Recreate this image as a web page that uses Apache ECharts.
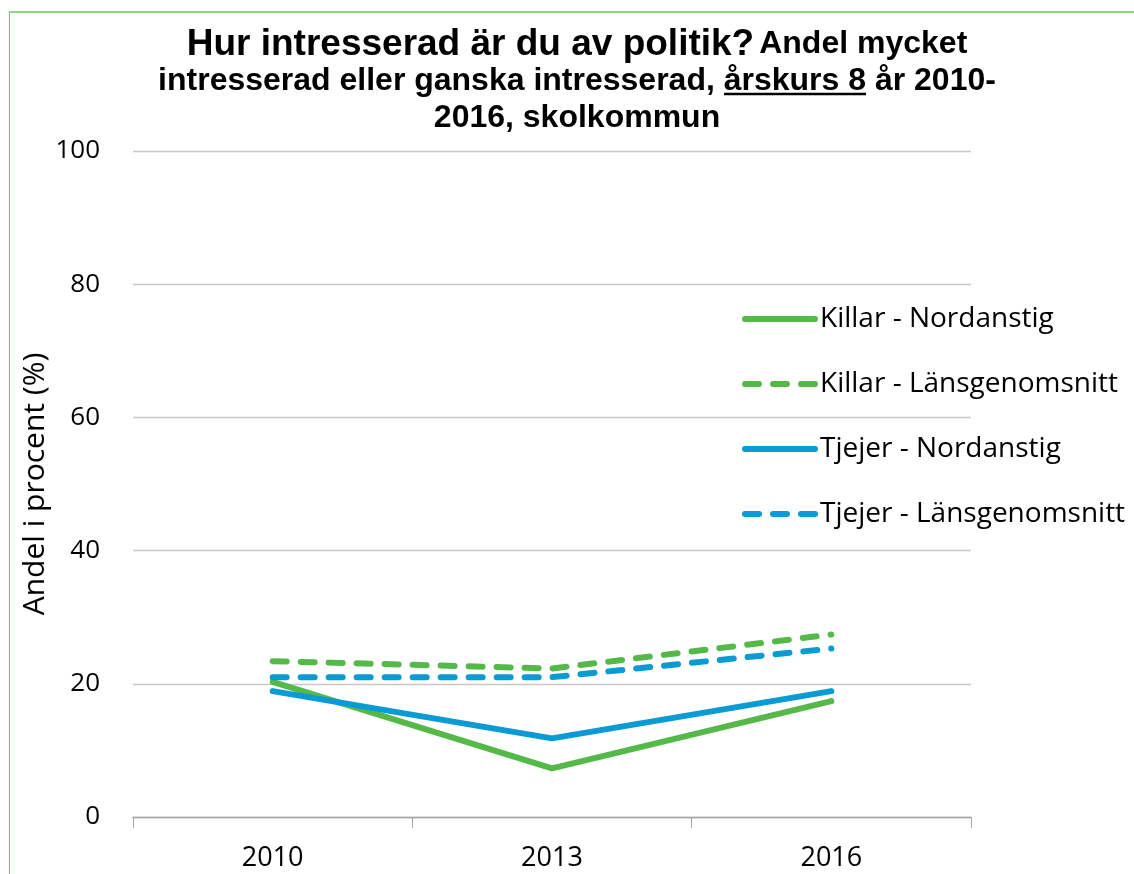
<!DOCTYPE html>
<html>
<head>
<meta charset="utf-8">
<script src="https://cdn.jsdelivr.net/npm/echarts@6/dist/echarts.min.js"></script>
<style>
  html, body { margin: 0; padding: 0; background: #fff; }
  #frame { position: absolute; left: 9px; top: 11px; width: 1125px; height: 863px;
           border-left: 1.5px solid #6cc46c; border-top: 2px solid #8cd68c; box-sizing: border-box; }
  #chart { position: absolute; left: 0; top: 0; width: 1134px; height: 874px; }
</style>
</head>
<body>
<div id="frame"></div>
<div id="chart"></div>
<script>
const years = ['2010', '2013', '2016'];
const killarNordanstig = [20.3, 7.3, 17.4];
const killarLan = [23.4, 22.3, 27.4];
const tjejerNordanstig = [18.9, 11.8, 18.9];
const tjejerLan = [21.0, 21.0, 25.3];
const seriesNames = ['Killar - Nordanstig', 'Killar - Länsgenomsnitt', 'Tjejer - Nordanstig', 'Tjejer - Länsgenomsnitt'];
const yTicks = { min: 0, max: 100, interval: 20 };

const green = '#55b94a';
const blue = '#0a9bd5';
const font = '"Open Sans", "Noto Sans", sans-serif';
const titleFont = '"Liberation Sans", Arial, sans-serif';

function mkSeries(name, data, color, dashed) {
  return {
    name: name, type: 'line', data: data, symbol: 'none', smooth: false,
    lineStyle: { color: color, width: 6, type: dashed ? [14, 14] : 'solid', cap: 'round' },
    itemStyle: { color: 'rgba(0,0,0,0)' }
  };
}

const chart = echarts.init(document.getElementById('chart'), null, { renderer: 'canvas' });
chart.setOption({
  animation: false,
  backgroundColor: 'transparent',
  title: {
    left: 577, textAlign: 'center', top: 26, padding: 0,
    text: '{a|Hur intresserad är du av politik?} {b|Andel mycket}\n{b|intresserad eller ganska intresserad, årskurs 8 år 2010-}\n{b|2016, skolkommun}',
    textStyle: {
      rich: {
        a: { fontFamily: titleFont, fontWeight: 'bold', fontSize: 37, color: '#000', lineHeight: 37 },
        b: { fontFamily: titleFont, fontWeight: 'bold', fontSize: 32, color: '#000', lineHeight: 37 }
      }
    }
  },
  graphic: [{
    type: 'line', shape: { x1: 724, y1: 94, x2: 866, y2: 94 },
    style: { stroke: '#000', lineWidth: 2.6 }, silent: true
  }],
  legend: {
    orient: 'vertical', left: 742, top: 304, itemGap: 35, padding: 0,
    itemWidth: 70, itemHeight: 14,
    data: seriesNames,
    lineStyle: { width: 6, cap: 'round' },
    itemStyle: { opacity: 0 },
    textStyle: { fontFamily: font, fontSize: 28, color: '#000', lineHeight: 30 }
  },
  grid: { left: 133, right: 163, top: 151, bottom: 57, containLabel: false },
  xAxis: {
    type: 'category', data: years, boundaryGap: true,
    axisLine: { lineStyle: { color: '#a6a6a6', width: 1.3 } },
    axisTick: { show: true, inside: false, length: 11, lineStyle: { color: '#a6a6a6' } },
    axisLabel: { fontFamily: font, fontSize: 27, color: '#000', margin: 28 }
  },
  yAxis: {
    type: 'value', min: yTicks.min, max: yTicks.max, interval: yTicks.interval,
    name: 'Andel i procent (%)', nameLocation: 'middle', nameGap: 83, nameRotate: 90,
    nameMoveOverlap: false,
    nameTextStyle: { fontFamily: font, fontSize: 30, color: '#000' },
    axisLine: { show: false }, axisTick: { show: false },
    axisLabel: { fontFamily: font, fontSize: 26, color: '#000', margin: 33 },
    splitLine: { lineStyle: { color: '#c8c8c8', width: 1.3 } }
  },
  series: [
    mkSeries(seriesNames[0], killarNordanstig, green, false),
    mkSeries(seriesNames[1], killarLan, green, true),
    mkSeries(seriesNames[2], tjejerNordanstig, blue, false),
    mkSeries(seriesNames[3], tjejerLan, blue, true)
  ]
});
</script>
</body>
</html>
